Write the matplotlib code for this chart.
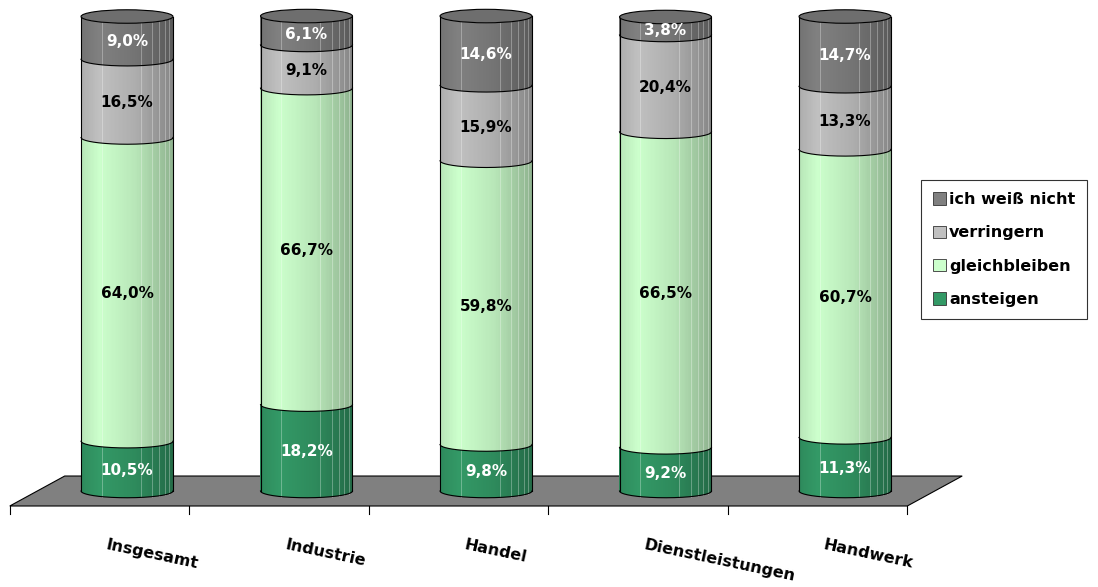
import matplotlib.pyplot as plt
import matplotlib.patches as patch
import numpy as np

# data (percent)
categories = ["Insgesamt", "Industrie", "Handel", "Dienstleistungen", "Handwerk"]
series = ["ansteigen", "gleichbleiben", "verringern", "ich weiß nicht"]
ansteigen = [10.5, 18.2, 9.8, 9.2, 11.3]
gleichbleiben = [64.0, 66.7, 59.8, 66.5, 60.7]
verringern = [16.5, 9.1, 15.9, 20.4, 13.3]
weiss_nicht = [9.0, 6.1, 14.6, 3.8, 14.7]
values = [ansteigen, gleichbleiben, verringern, weiss_nicht]

colors = ["#339966", "#ccffcc", "#c0c0c0", "#808080"]
text_colors = ["white", "black", "black", "white"]

# geometry of the fake 3d view
r = 0.256        # cylinder radius in category units
h = 1.42         # ellipse half height in percent units
depth_dx = 0.153
depth_dy = 3.16
n_strips = 70

fig = plt.figure(figsize=(10.98, 5.87), dpi=100)
ax = fig.add_axes([0, 0, 1, 1])
ax.set_xlim(-0.7075, 5.4095)
ax.set_ylim(-20.23, 103.48)
ax.axis("off")

font = {"family": "DejaVu Sans", "weight": "bold"}

# floor
n = len(categories)
floor = patch.Polygon([(-0.5 - depth_dx, -depth_dy), (n - 0.5 - depth_dx, -depth_dy),
                       (n - 0.5 + depth_dx, depth_dy), (-0.5 + depth_dx, depth_dy)],
                      closed=True, facecolor="#808080", edgecolor="black", lw=0.8, zorder=1)
ax.add_patch(floor)
for k in range(n + 1):
    xt = k - 0.5 - depth_dx
    ax.plot([xt, xt], [-depth_dy, -depth_dy - 1.7], color="black", lw=0.8, zorder=1)

# shading across the cylinder face
u = np.linspace(-1, 1, n_strips + 1)
uc = (u[:-1] + u[1:]) / 2
shade = np.interp(uc, [-1, -0.6, 0.2, 1], [0.9, 1.0, 0.9, 0.7])
sag = h * np.sqrt(1 - uc ** 2)
ua = np.linspace(-1, 1, 200)
arc = h * np.sqrt(1 - ua ** 2)
facets = [-0.55, 0.3, 0.55, 0.7, 0.82, 0.92]

for i, cat in enumerate(categories):
    xs = i + r * uc
    bottom = 0.0
    for s, vals in enumerate(values):
        v = vals[i]
        base = np.array(plt.matplotlib.colors.to_rgb(colors[s]))
        strip_cols = [tuple(np.clip(base * f, 0, 1)) for f in shade]
        ax.bar(xs, v, bottom=bottom - sag, width=2 * r / n_strips * 1.15,
               color=strip_cols, linewidth=0, zorder=2)
        # front arc at bottom of segment
        ax.plot(i + r * ua, bottom - arc, color="black", lw=0.8, zorder=3)
        ax.text(i, bottom + v / 2 - 0.6 * h, f"{v:.1f}%".replace(".", ","),
                ha="center", va="center", fontsize=11, color=text_colors[s], zorder=4, **font)
        bottom += v
    # faint facet lines
    for fu in facets:
        fs = h * np.sqrt(1 - fu ** 2)
        ax.plot([i + r * fu] * 2, [-fs, bottom - fs], color="white", lw=0.6, alpha=0.35, zorder=2.5)
    # sides
    ax.plot([i - r, i - r], [0, bottom], color="black", lw=0.8, zorder=3)
    ax.plot([i + r, i + r], [0, bottom], color="black", lw=0.8, zorder=3)
    cap_col = np.array(plt.matplotlib.colors.to_rgb(colors[-1])) * 0.86
    cap = patch.Ellipse((i, bottom), 2 * r, 2 * h, facecolor=cap_col,
                        edgecolor="black", lw=0.8, zorder=3)
    ax.add_patch(cap)
    # category label
    ax.text(i - 0.11, -9.7, cat, rotation=-12, rotation_mode="anchor",
            ha="left", va="top", fontsize=11.5, color="black", **font)

handles = [patch.Patch(facecolor=colors[s], edgecolor="#333333", lw=0.6) for s in range(4)]
leg = fig.legend(handles[::-1], series[::-1], loc="upper left",
                 bbox_to_anchor=(0.8388, 0.6934), frameon=True, fancybox=False,
                 handlelength=0.8, handleheight=0.8, handletextpad=0.2,
                 labelspacing=1.15, borderpad=0.75, borderaxespad=0,
                 prop={"family": "DejaVu Sans", "weight": "bold", "size": 11.5})
leg.get_frame().set_edgecolor("black")
leg.get_frame().set_linewidth(0.8)

fig.savefig("out.png", dpi=100)
